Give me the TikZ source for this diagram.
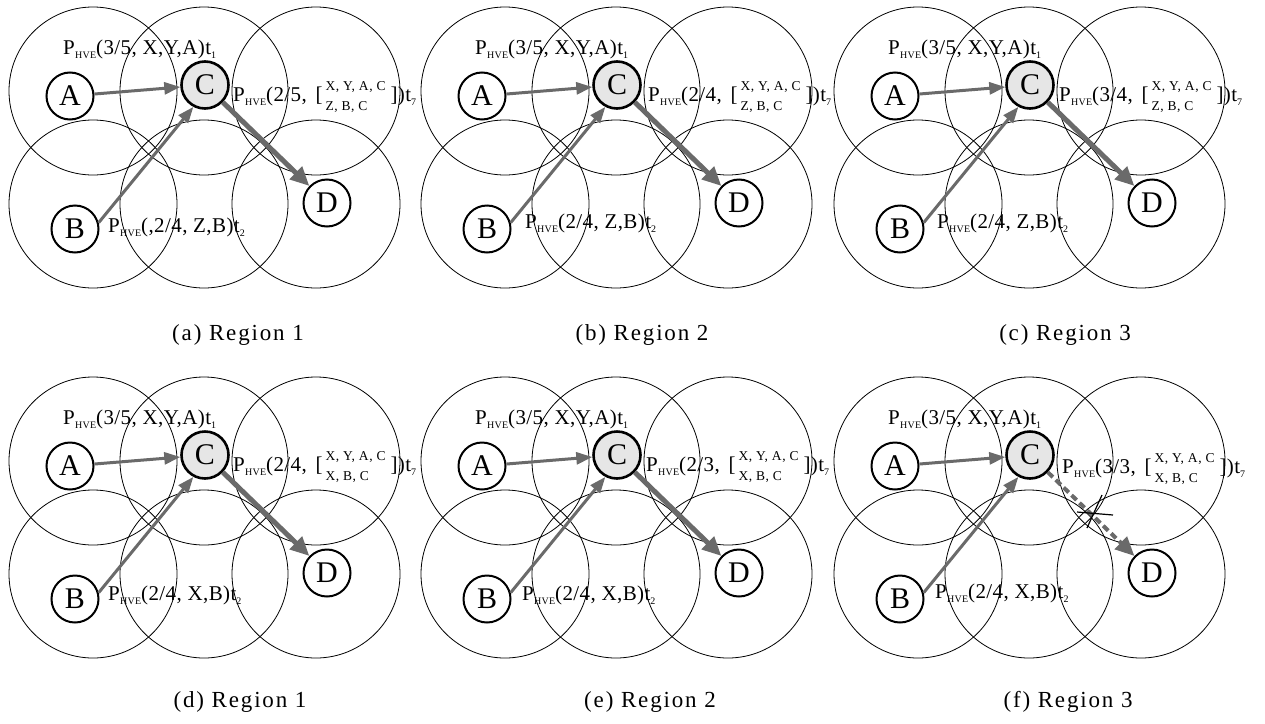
\documentclass[tikz,border=0pt]{standalone}
\usepackage{fontspec}
\setmainfont{Liberation Serif}
\newfontfamily\capfont[LetterSpace=8]{Liberation Serif}
\newfontfamily\stkfont[LetterSpace=4]{Liberation Serif}
\newfontfamily\lblfont[LetterSpace=2]{Liberation Serif}
\usetikzlibrary{arrows.meta}
\definecolor{arrgray}{HTML}{6A6A6A}
\definecolor{cfill}{HTML}{E6E6E6}
\newcommand{\hve}{P\kern0.3pt\raisebox{-0.45ex}{\fontsize{10}{10}\selectfont HVE}}
\newcommand{\tsub}[1]{\raisebox{-0.45ex}{\fontsize{10}{10}\selectfont #1}}
\newcommand{\stk}[2]{\hspace{3pt}[\hspace{3pt}{\stkfont\fontsize{13.5}{14}\selectfont\begin{tabular}{@{}l@{}}#1\\[6pt]#2\end{tabular}}\hspace{5pt}]}
\tikzset{
  ring/.style={draw=black, line width=0.8pt},
  nd/.style={circle, draw=black, line width=2pt, minimum size=47pt, inner sep=0pt, font=\fontsize{30}{30}\selectfont},
  ndc/.style={nd, fill=cfill, line width=2.6pt},
  lbl/.style={inner sep=0pt, font=\lblfont\fontsize{21}{22}\selectfont},
  captxt/.style={inner sep=0pt, font=\capfont\fontsize{23}{25}\selectfont},
  arr/.style={draw=arrgray, line width=3pt, -{Triangle[length=16pt,width=12pt]}},
  arrbig/.style={draw=arrgray, line width=5pt, -{Triangle[length=19pt,width=17pt]}},
  arrdash/.style={draw=arrgray, line width=4pt, dash pattern=on 7pt off 4pt, -{Triangle[length=19pt,width=17pt]}},
  crossln/.style={draw=black, line width=1.2pt}
}
\newcommand{\basepanel}[1]{%
  \foreach \cx/\cy in {93/91,204/91,316/91,93/204,204/204,316/204}
    \draw[ring] (\cx,\cy) circle[radius=84];
  \node[nd] (#1A) at (70,96) {A};
  \node[nd] (#1B) at (75,229) {B};
  \node[ndc] (#1C) at (205,85) {C};
  \node[nd] (#1D) at (327,203) {D};
  \node[lbl, anchor=west] (#1t1) at (63,49) {\hve(3/5, X,Y,A)t\tsub{1}};
  \draw[arr] (#1A) -- (#1C);
  \draw[arr] (#1B.15) -- (#1C.242);
}
\begin{document}
\begin{tikzpicture}[x=1pt,y=-1pt]
\useasboundingbox (0,0) rectangle (1265,723);
% (a)
\begin{scope}[shift={(0,0)}]
  \basepanel{a}
  \node[lbl, anchor=west] (at7) at (233,98) {\hve(2/5, \stk{X, Y, A, C}{Z, B, C})t\tsub{7}};
  \node[lbl, anchor=west] (at2) at (108,227) {\hve(,2/4, Z,B)t\tsub{2}};
  \draw[arrbig] (aC) -- (aD);
  \node[captxt] (capa) at (238,335) {(a) Region 1};
\end{scope}
% (b)
\begin{scope}[shift={(412,0)}]
  \basepanel{b}
  \node[lbl, anchor=west] (bt7) at (236,98) {\hve(2/4, \stk{X, Y, A, C}{Z, B, C})t\tsub{7}};
  \node[lbl, anchor=west] (bt2) at (113,223) {\hve(2/4, Z,B)t\tsub{2}};
  \draw[arrbig] (bC) -- (bD);
  \node[captxt] (capb) at (230,335) {(b) Region 2};
\end{scope}
% (c)
\begin{scope}[shift={(825,0)}]
  \basepanel{c}
  \node[lbl, anchor=west] (ct7) at (234,98) {\hve(3/4, \stk{X, Y, A, C}{Z, B, C})t\tsub{7}};
  \node[lbl, anchor=west] (ct2) at (112,223) {\hve(2/4, Z,B)t\tsub{2}};
  \draw[arrbig] (cC) -- (cD);
  \node[captxt] (capc) at (240,335) {(c) Region 3};
\end{scope}
% (d)
\begin{scope}[shift={(0,370)}]
  \basepanel{d}
  \node[lbl, anchor=west] (dt7) at (233,98) {\hve(2/4, \stk{X, Y, A, C}{X, B, C})t\tsub{7}};
  \node[lbl, anchor=west] (dt2) at (108,225) {\hve(2/4, X,B)t\tsub{2}};
  \draw[arrbig] (dC) -- (dD);
  \node[captxt] (capd) at (240,332) {(d) Region 1};
\end{scope}
% (e)
\begin{scope}[shift={(412,370)}]
  \basepanel{e}
  \node[lbl, anchor=west] (et7) at (234,98) {\hve(2/3, \stk{X, Y, A, C}{X, B, C})t\tsub{7}};
  \node[lbl, anchor=west] (et2) at (110,225) {\hve(2/4, X,B)t\tsub{2}};
  \draw[arrbig] (eC) -- (eD);
  \node[captxt] (cape) at (238,332) {(e) Region 2};
\end{scope}
% (f)
\begin{scope}[shift={(825,370)}]
  \basepanel{f}
  \node[lbl, anchor=west] (ft7) at (237,100) {\hve(3/3, \stk{X, Y, A, C}{X, B, C})t\tsub{7}};
  \node[lbl, anchor=west] (ft2) at (110,223) {\hve(2/4, X,B)t\tsub{2}};
  \draw[arrdash] (fC) -- (fD);
  \draw[crossln] (252,142) -- (288,145);
  \draw[crossln] (262,158) -- (277,125);
  \node[captxt] (capf) at (243,332) {(f) Region 3};
\end{scope}
\end{tikzpicture}
\end{document}
